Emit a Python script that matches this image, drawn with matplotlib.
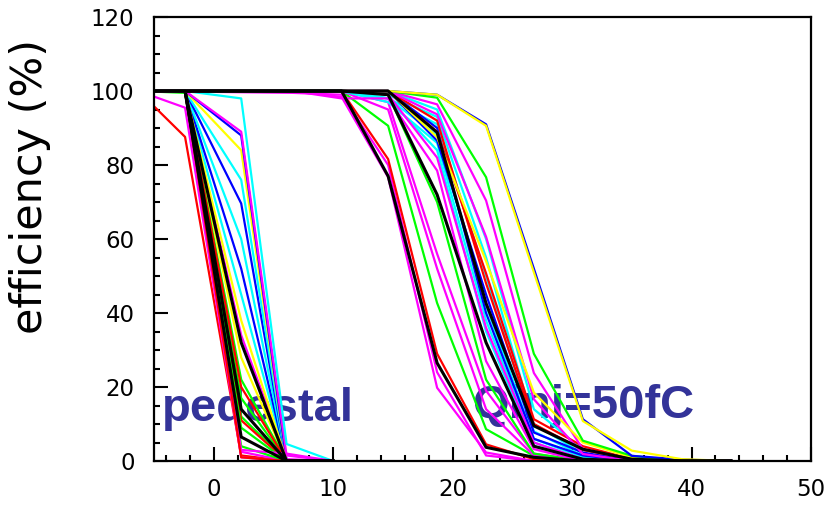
import numpy as np
import matplotlib
matplotlib.use("Agg")
import matplotlib.pyplot as plt
from matplotlib.ticker import MultipleLocator

# threshold scan points (pedestal scan and 50 fC injection scan)
x_ped = [-6.3, -2.4, 2.3, 6.1, 10.0]
x_sig = [-6.2, 6.6, 10.7, 14.6, 18.7, 22.8, 26.8, 30.9, 35.0, 39.2, 43.3]

# plain ROOT-style palette
pal = {'k': '#000000', 'r': '#ff0000', 'g': '#00ff00', 'b': '#0000ff',
       'y': '#ffff00', 'm': '#ff00ff', 'c': '#00ffff'}

# pedestal scans: (colour, efficiency in %)
ped_colors = ['r', 'm', 'g', 'm', 'r', 'g', 'y', 'g', 'g', 'c', 'b', 'c',
              'b', 'c', 'y', 'b', 'm', 'c', 'm', 'r', 'g', 'y', 'm', 'r',
              'k', 'k', 'k']
ped_eff = [
    [100, 87.6, 1.5, 0, 0],
    [100, 95.5, 1.0, 0, 0],
    [100, 99.5, 12, 0, 0],
    [100, 100, 2.5, 0, 0],
    [100, 100, 11, 0, 0],
    [100, 100, 4, 0, 0],
    [100, 100, 28, 0, 0],
    [100, 100, 22, 0, 0],
    [100, 100, 17, 0, 0],
    [100, 100, 45, 0, 0],
    [100, 100, 52, 0, 0],
    [100, 100, 60, 0, 0],
    [100, 100, 69.6, 0, 0],
    [100, 100, 76, 0, 0],
    [100, 100, 84, 0, 0],
    [100, 100, 88, 0, 0],
    [100, 100, 89, 1.5, 0],
    [100, 100, 98, 4.6, 0],
    [100, 100, 34, 0.5, 0],
    [100, 100, 20, 0, 0],
    [100, 100, 9, 0, 0],
    [100, 100, 38, 0, 0],
    [100, 100, 3, 2, 0],
    [100, 100, 1, 0, 0],
    [100, 100, 6.5, 0, 0],
    [100, 100, 32, 0, 0],
    [100, 100, 14, 0, 0],
]

# Qinj = 50 fC scans
sig_colors = ['m', 'm', 'r', 'g', 'm', 'm', 'g', 'c', 'c', 'c', 'c', 'c',
              'c', 'b', 'b', 'r', 'r', 'm', 'm', 'm', 'm', 'y', 'g', 'b',
              'y', 'k', 'k', 'k']
sig_eff = [
    [100, 100, 98.4, 76.7, 19.8, 2.3, 0, 0, 0, 0, 0],
    [100, 99.5, 99, 80, 24, 1.5, 0, 0, 0, 0, 0],
    [100, 100, 100, 81.6, 29, 4.5, 0.5, 0, 0, 0, 0],
    [100, 100, 100, 90.6, 42.7, 8.6, 1.4, 0, 0, 0, 0],
    [100, 100, 100, 97, 56, 19, 2, 0, 0, 0, 0],
    [100, 100, 100, 95, 52, 14, 1.5, 0, 0, 0, 0],
    [100, 100, 100, 99, 70, 22, 2, 0, 0, 0, 0],
    [100, 100, 100, 98, 91, 50, 8, 1.4, 0, 0, 0],
    [100, 100, 100, 98, 88, 42, 6, 1, 0, 0, 0],
    [100, 100, 100, 97, 86, 38, 5, 0.5, 0, 0, 0],
    [100, 100, 100, 99, 93, 55, 10, 2, 0, 0, 0],
    [100, 100, 100, 98, 84, 35, 4, 0.5, 0, 0, 0],
    [100, 100, 100, 100, 95, 60, 14, 3, 0.5, 0, 0],
    [100, 100, 100, 100, 86.6, 45, 7.7, 2.3, 0, 0, 0],
    [100, 100, 100, 100, 90, 40, 6, 1.5, 0, 0, 0],
    [100, 100, 100, 100, 89, 50.7, 11.3, 4, 0.5, 0, 0],
    [100, 100, 100, 100, 92, 48, 10, 3, 0.5, 0, 0],
    [100, 100, 100, 100, 96.4, 70.4, 23.8, 3.2, 0.5, 0, 0],
    [100, 100, 100, 100, 93.7, 60.6, 16.7, 1.9, 0, 0, 0],
    [100, 100, 100, 99, 82, 36, 5, 0.5, 0, 0, 0],
    [100, 100, 98, 98, 78.5, 27, 3.2, 0, 0, 0, 0],
    [100, 100, 100, 100, 87.5, 54, 18.5, 5, 1, 0, 0],
    [100, 100, 100, 100, 98.2, 76.7, 29, 5.5, 1.4, 0, 0],
    [100, 100, 100, 100, 99, 91, 52, 11.3, 1.4, 0.4, 0],
    [100, 100, 100, 100, 99, 90.6, 51, 10.8, 2.8, 0.5, 0],
    [100, 100, 100, 77, 26.5, 3.7, 1, 0, 0, 0, 0],
    [100, 100, 100, 99, 72, 32, 4, 0.5, 0, 0, 0],
    [100, 100, 100, 100, 88.8, 42.6, 9.5, 3.2, 0.5, 0, 0],
]

fig = plt.figure(figsize=(8.36, 5.05), dpi=100)
ax = fig.add_axes([0.1842, 0.0871, 0.7859, 0.8792])

for c, eff in zip(ped_colors, ped_eff):
    ax.plot(x_ped, eff, color=pal[c], lw=2.2 if c == 'k' else 1.6, zorder=2)
for c, eff in zip(sig_colors, sig_eff):
    ax.plot(x_sig, eff, color=pal[c], lw=2.2 if c == 'k' else 1.6, zorder=2)

ax.set_xlim(-5, 50)
ax.set_ylim(0, 120)
ax.xaxis.set_major_locator(MultipleLocator(10))
ax.xaxis.set_minor_locator(MultipleLocator(2))
ax.yaxis.set_major_locator(MultipleLocator(20))
ax.yaxis.set_minor_locator(MultipleLocator(5))
ax.tick_params(which='both', direction='in', top=False, right=False, width=1.5)
ax.tick_params(which='major', length=10)
ax.tick_params(which='minor', length=4.5)
ax.tick_params(axis='x', pad=12, labelsize=16.5)
ax.tick_params(axis='y', pad=14, labelsize=16.5)
for s in ax.spines.values():
    s.set_linewidth(1.6)

fig.text(30 / 836, 1 - 186 / 505, 'efficiency (%)', rotation=90,
         ha='center', va='center', fontsize=31, family='DejaVu Sans')

# labels sit underneath the curves
ax.text(-4.33, 10.8, 'pedestal', color='#333399', fontsize=34,
        fontweight='bold', family='Liberation Sans', va='baseline', zorder=1)
ax.text(21.6, 11.5, 'Qinj=50fC', color='#333399', fontsize=34,
        fontweight='bold', family='Liberation Sans', va='baseline', zorder=1)

fig.savefig('out.png', dpi=100)
